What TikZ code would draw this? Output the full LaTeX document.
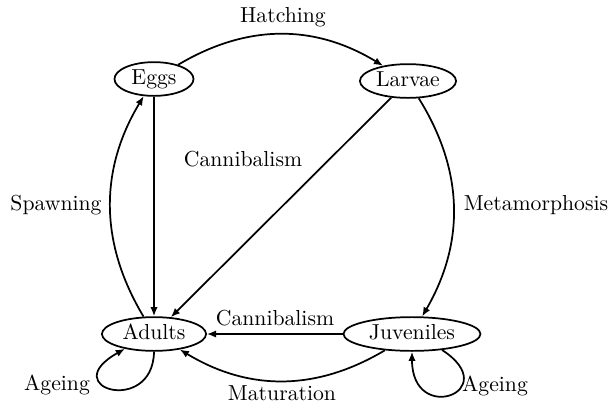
\documentclass[tikz,border=0pt]{standalone}
\usetikzlibrary{shapes.geometric,arrows.meta}
\begin{document}
\begin{tikzpicture}[x=0.4608pt,y=0.4608pt,
  state/.style={ellipse,draw,line width=0.8pt,inner xsep=2.5pt,inner ysep=1pt,text height=7pt,text depth=2pt},
  lbl/.style={inner sep=0pt},
  edge/.style={line width=0.8pt,-{Latex[length=4.2pt,width=3.4pt]}}]
\path[use as bounding box] (0,0) rectangle (611,406);
\node[state] (eggs) at (154,327) {Eggs};
\node[state,inner xsep=1pt] (larvae) at (408,325) {Larvae};
\node[state] (adults) at (154,72) {Adults};
\node[state] (juv) at (412,72) {Juveniles};
\draw[edge] (eggs) to[bend left=31] (larvae);
\draw[edge] (larvae) to[bend left=31] (juv);
\draw[edge] (adults) to[bend left=31] (eggs);
\draw[edge] (eggs) -- (adults);
\draw[edge] (larvae) -- (adults);
\draw[edge] (juv) -- (adults);
\draw[edge] (juv) to[bend left=31] (adults);
\draw[edge] (adults.south) .. controls (153,-10) and (55,18) .. (adults.207);
\draw[edge] (juv.-28) .. controls (505,15) and (412,-20) .. (juv.south);
\node[lbl] (lhatch) at (283,389) {Hatching};
\node[lbl] (lmeta) at (536,201) {Metamorphosis};
\node[lbl] (lspawn) at (56,201) {Spawning};
\node[lbl] (lcann1) at (243,247) {Cannibalism};
\node[lbl] (lcann2) at (275,88) {Cannibalism};
\node[lbl] (lmat) at (282,13) {Maturation};
\node[lbl] (lage1) at (57,21) {Ageing};
\node[lbl] (lage2) at (495,20) {Ageing};
\end{tikzpicture}
\end{document}
